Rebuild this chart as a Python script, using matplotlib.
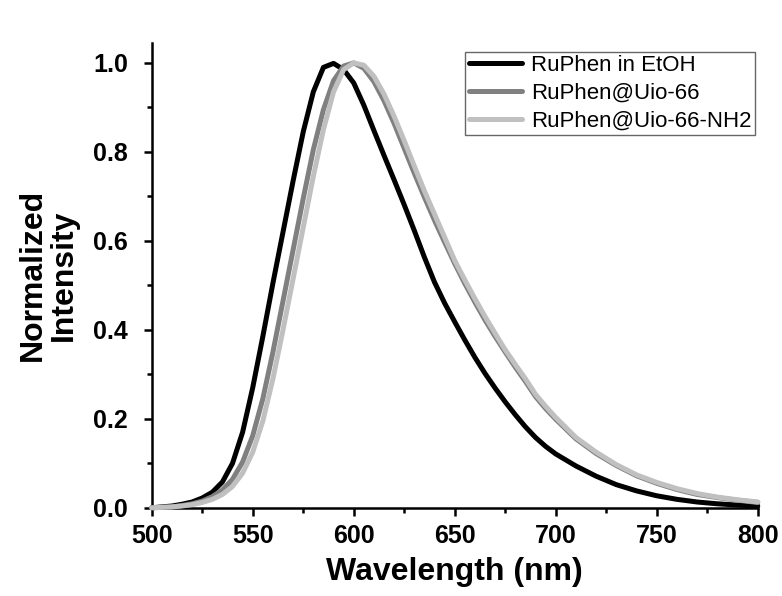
import matplotlib
matplotlib.use("Agg")
import matplotlib.pyplot as plt
from matplotlib.ticker import MultipleLocator

plt.rcParams['font.family'] = ['Liberation Sans', 'DejaVu Sans']

# wavelength grid (nm) shared by the three spectra
wavelength = [500, 505, 510, 515, 520, 525, 530, 535, 540, 545, 550, 555, 560, 565, 570,
              575, 580, 585, 590, 595, 600, 605, 610, 615, 620, 625, 630, 635, 640, 645,
              650, 655, 660, 665, 670, 675, 680, 685, 690, 695, 700, 710, 720, 730, 740,
              750, 760, 770, 780, 790, 800]

etoh = [0.000, 0.002, 0.004, 0.008, 0.013, 0.022, 0.035, 0.058, 0.100, 0.170, 0.270, 0.385,
        0.505, 0.620, 0.735, 0.845, 0.935, 0.990, 0.999, 0.985, 0.955, 0.905, 0.848, 0.792,
        0.737, 0.681, 0.623, 0.563, 0.507, 0.460, 0.418, 0.377, 0.338, 0.302, 0.269, 0.238,
        0.209, 0.182, 0.158, 0.138, 0.121, 0.094, 0.071, 0.052, 0.038, 0.027, 0.019, 0.013,
        0.009, 0.006, 0.004]

uio66 = [0.000, 0.001, 0.002, 0.005, 0.009, 0.015, 0.025, 0.040, 0.064, 0.103, 0.162, 0.245,
         0.350, 0.465, 0.580, 0.695, 0.805, 0.895, 0.960, 0.993, 1.000, 0.988, 0.958, 0.915,
         0.864, 0.808, 0.752, 0.698, 0.646, 0.597, 0.549, 0.504, 0.462, 0.422, 0.385, 0.350,
         0.316, 0.284, 0.250, 0.223, 0.199, 0.155, 0.122, 0.095, 0.072, 0.055, 0.041, 0.030,
         0.023, 0.017, 0.012]

uio66_nh2 = [0.000, 0.001, 0.002, 0.004, 0.007, 0.012, 0.019, 0.030, 0.048, 0.078, 0.125, 0.195,
             0.290, 0.400, 0.515, 0.630, 0.745, 0.850, 0.935, 0.985, 1.000, 0.995, 0.970, 0.930,
             0.880, 0.825, 0.768, 0.712, 0.660, 0.608, 0.556, 0.512, 0.470, 0.430, 0.392, 0.355,
             0.322, 0.290, 0.255, 0.228, 0.203, 0.158, 0.125, 0.097, 0.074, 0.057, 0.043, 0.032,
             0.024, 0.018, 0.013]

labels = ["RuPhen in EtOH", "RuPhen@Uio-66", "RuPhen@Uio-66-NH2"]
colors = ["#000000", "#808080", "#c0c0c0"]

fig = plt.figure(figsize=(7.82, 5.96), dpi=100)
ax = fig.add_axes([0.194, 0.148, 0.775, 0.780])

for y, lab, c in zip([etoh, uio66, uio66_nh2], labels, colors):
    ax.plot(wavelength, y, color=c, lw=3.6, label=lab,
            solid_capstyle='round', solid_joinstyle='round', clip_on=False, zorder=3)

ax.set_xlim(500, 800)
ax.set_ylim(0, 1.045)
ax.xaxis.set_major_locator(MultipleLocator(50))
ax.xaxis.set_minor_locator(MultipleLocator(25))
ax.set_yticks([0.0, 0.2, 0.4, 0.6, 0.8, 1.0])
ax.set_yticklabels(["0.0", "0.2", "0.4", "0.6", "0.8", "1.0"])
ax.yaxis.set_minor_locator(MultipleLocator(0.1))

for side in ['top', 'right']:
    ax.spines[side].set_visible(False)
for side in ['left', 'bottom']:
    ax.spines[side].set_linewidth(1.8)

ax.tick_params(which='major', direction='out', length=6, width=1.8, labelsize=18)
ax.tick_params(which='minor', direction='out', length=3.5, width=1.8)
ax.tick_params(axis='x', which='major', pad=6)
ax.tick_params(axis='y', which='major', pad=11)
for t in ax.get_xticklabels() + ax.get_yticklabels():
    t.set_fontweight('bold')

ax.set_xlabel("Wavelength (nm)", fontsize=23, fontweight='bold', labelpad=6)
ax.set_ylabel("Normalized\nIntensity", fontsize=23, fontweight='bold', labelpad=10,
              linespacing=1.05)

leg = ax.legend(loc='upper right', bbox_to_anchor=(0.995, 0.981), borderaxespad=0,
                fontsize=16, frameon=True, fancybox=False, handlelength=2.4,
                handletextpad=0.4, borderpad=0.15, labelspacing=0.3)
leg.get_frame().set_edgecolor('#404040')
leg.get_frame().set_linewidth(1.0)

fig.savefig("out.png", dpi=100)
